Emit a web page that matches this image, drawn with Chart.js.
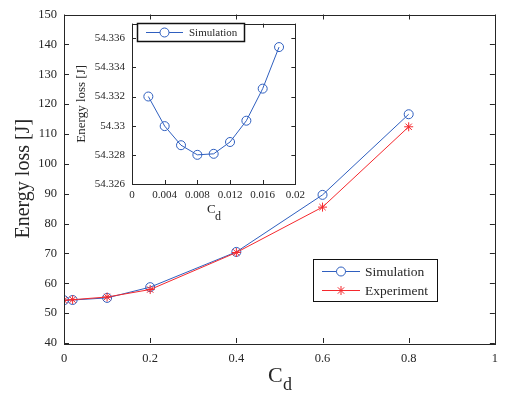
<!DOCTYPE html>
<html>
<head>
<meta charset="utf-8">
<script src="https://cdn.jsdelivr.net/npm/chart.js@4.4.0/dist/chart.umd.min.js"></script>
<style>
  html, body { margin: 0; padding: 0; background: #fff; }
  #wrap { position: relative; width: 506px; height: 394px; }
  #grafico { position: absolute; left: 0; top: 0; }
  #grafico-inset { position: absolute; left: 70px; top: 10px; }
</style>
</head>
<body>
<div id="wrap">
  <canvas id="grafico" width="506" height="394"></canvas>
  <canvas id="grafico-inset" width="240" height="212"></canvas>
</div>
<script>
// dados do grafico principal
const cd = [0, 0.02, 0.1, 0.2, 0.4, 0.6, 0.8];
const simulacao = [54.33, 54.4, 55.1, 58.7, 70.5, 89.6, 116.6];
const experimento = [54.3, 54.5, 55.4, 57.9, 70.3, 85.5, 112.4];
const ticksX = [0, 0.2, 0.4, 0.6, 0.8, 1];
const ticksY = [40, 50, 60, 70, 80, 90, 100, 110, 120, 130, 140, 150];

// dados do detalhe (inset)
const cdInset = [0.002, 0.004, 0.006, 0.008, 0.010, 0.012, 0.014, 0.016, 0.018];
const simInset = [54.332, 54.32997, 54.32866, 54.3280, 54.32807, 54.32888, 54.33034, 54.33254, 54.33539];
const ticksXInset = [0, 0.004, 0.008, 0.012, 0.016, 0.02];
const ticksYInset = [54.326, 54.328, 54.33, 54.332, 54.334, 54.336];

const AZUL = "#2f5fbf";
const VERMELHO = "#f5282d";
const TEXTO = "#262626";
const FONTE = "'Liberation Serif', 'Times New Roman', serif";

const pares = (xs, ys) => xs.map((x, i) => ({ x: x, y: ys[i] }));
const rotulo = v => String(+Number(v).toFixed(6));

// caixa com ticks para dentro, estilo matlab
const caixaTicks = {
  id: "caixaTicks",
  afterDraw(chart, args, opts) {
    const { ctx, chartArea: a, scales } = chart;
    const len = opts.len || 5;
    ctx.save();
    ctx.strokeStyle = TEXTO;
    ctx.lineWidth = 1;
    ctx.beginPath();
    scales.x.ticks.forEach(t => {
      const px = Math.round(scales.x.getPixelForValue(t.value)) + 0.5;
      ctx.moveTo(px, a.bottom); ctx.lineTo(px, a.bottom - len);
      ctx.moveTo(px, a.top); ctx.lineTo(px, a.top + len);
    });
    scales.y.ticks.forEach(t => {
      const py = Math.round(scales.y.getPixelForValue(t.value)) + 0.5;
      ctx.moveTo(a.left, py); ctx.lineTo(a.left + len, py);
      ctx.moveTo(a.right, py); ctx.lineTo(a.right - len, py);
    });
    ctx.stroke();
    ctx.lineWidth = opts.borda || 1;
    ctx.strokeRect(Math.round(a.left) + 0.5, Math.round(a.top) + 0.5,
      Math.round(a.right - a.left), Math.round(a.bottom - a.top));
    ctx.restore();
  }
};

// legenda desenhada dentro da area do grafico
const legendaCaixa = {
  id: "legendaCaixa",
  afterDraw(chart, args, opts) {
    const ctx = chart.ctx;
    ctx.save();
    ctx.fillStyle = "#fff";
    ctx.fillRect(opts.x, opts.y, opts.w, opts.h);
    ctx.strokeStyle = "#111";
    ctx.lineWidth = opts.borda || 1;
    ctx.strokeRect(opts.x + 0.5, opts.y + 0.5, opts.w, opts.h);
    opts.itens.forEach((item, i) => {
      const ds = chart.data.datasets[item.dataset];
      const y = opts.linhaY + i * opts.passo;
      ctx.strokeStyle = ds.borderColor;
      ctx.lineWidth = 1;
      ctx.beginPath();
      ctx.moveTo(opts.x0, y + 0.5);
      ctx.lineTo(opts.x1, y + 0.5);
      ctx.stroke();
      Chart.helpers.drawPoint(ctx, {
        pointStyle: ds.pointStyle,
        radius: ds.pointRadius,
        borderWidth: 1,
        rotation: 0
      }, (opts.x0 + opts.x1) / 2, y + 0.5);
      ctx.fillStyle = TEXTO;
      ctx.font = opts.fonte + "px " + FONTE;
      ctx.textBaseline = "middle";
      ctx.textAlign = "left";
      ctx.fillText(ds.label, opts.textoX, y + 1);
    });
    ctx.restore();
  }
};

// rotulo "C" com "d" subscrito
const rotuloCd = {
  id: "rotuloCd",
  afterDraw(chart, args, opts) {
    const ctx = chart.ctx;
    ctx.save();
    ctx.fillStyle = TEXTO;
    ctx.textAlign = "left";
    ctx.textBaseline = "alphabetic";
    ctx.font = opts.tam + "px " + FONTE;
    ctx.fillText("C", opts.x, opts.y);
    ctx.font = opts.tamSub + "px " + FONTE;
    ctx.fillText("d", opts.subX, opts.subY);
    ctx.restore();
  }
};

function escala(min, max, ticks, larguraFixa, tamFonte, padding, titulo) {
  return {
    type: "linear",
    min: min,
    max: max,
    grid: { display: false, drawTicks: false },
    border: { display: false },
    afterBuildTicks: s => { s.ticks = ticks.map(v => ({ value: v })); },
    afterFit: larguraFixa,
    ticks: {
      color: TEXTO,
      padding: padding,
      autoSkip: false,
      maxRotation: 0,
      font: { family: FONTE, size: tamFonte },
      callback: rotulo
    },
    title: titulo || { display: false }
  };
}

new Chart(document.getElementById("grafico").getContext("2d"), {
  type: "line",
  data: {
    datasets: [
      {
        label: "Experiment",
        data: pares(cd, experimento),
        borderColor: VERMELHO,
        backgroundColor: VERMELHO,
        borderWidth: 1,
        pointStyle: "star",
        pointRadius: 4.5,
        pointBorderWidth: 1,
        tension: 0
      },
      {
        label: "Simulation",
        data: pares(cd, simulacao),
        borderColor: AZUL,
        backgroundColor: "transparent",
        borderWidth: 1,
        pointStyle: "circle",
        pointRadius: 4.5,
        pointBorderWidth: 1,
        tension: 0
      }
    ]
  },
  options: {
    responsive: false,
    animation: false,
    layout: { padding: { left: 0, right: 8, top: 6, bottom: 0 } },
    scales: {
      x: escala(0, 1, ticksX, s => { s.height = 51; }, 12.5, 8),
      y: escala(40, 150, ticksY, s => { s.width = 64; }, 12.5, 7, {
        display: true,
        text: "Energy loss [J]",
        color: TEXTO,
        font: { family: FONTE, size: 20 },
        padding: { top: 12, bottom: 0 }
      })
    },
    plugins: {
      legend: { display: false },
      tooltip: { enabled: false },
      caixaTicks: { len: 5 },
      legendaCaixa: {
        x: 313, y: 259, w: 124, h: 42,
        x0: 322, x1: 360, textoX: 365,
        linhaY: 271, passo: 19, fonte: 13.5, borda: 1,
        itens: [{ dataset: 1 }, { dataset: 0 }]
      },
      rotuloCd: { x: 268, y: 382, tam: 22, subX: 283, subY: 390, tamSub: 18 }
    }
  },
  plugins: [caixaTicks, legendaCaixa, rotuloCd]
});

new Chart(document.getElementById("grafico-inset").getContext("2d"), {
  type: "line",
  data: {
    datasets: [
      {
        label: "Simulation",
        data: pares(cdInset, simInset),
        borderColor: AZUL,
        backgroundColor: "transparent",
        borderWidth: 1,
        pointStyle: "circle",
        pointRadius: 4.5,
        pointBorderWidth: 1,
        tension: 0
      }
    ]
  },
  options: {
    responsive: false,
    animation: false,
    layout: { padding: { left: 0, right: 11, top: 6, bottom: 0 } },
    scales: {
      x: escala(0, 0.02, ticksXInset, s => { s.height = 38; }, 11, 5),
      y: escala(54.326, 54.337, ticksYInset, s => { s.width = 62; }, 11, 7, {
        display: true,
        text: "Energy loss [J]",
        color: TEXTO,
        font: { family: FONTE, size: 13 },
        padding: { top: 4, bottom: 0 }
      })
    },
    plugins: {
      legend: { display: false },
      tooltip: { enabled: false },
      caixaTicks: { len: 4, borda: 1 },
      legendaCaixa: {
        x: 67, y: 13, w: 107, h: 18,
        x0: 76, x1: 113, textoX: 119,
        linhaY: 22, passo: 0, fonte: 11, borda: 1.5,
        itens: [{ dataset: 0 }]
      },
      rotuloCd: { x: 137, y: 203, tam: 13, subX: 145, subY: 210, tamSub: 12 }
    }
  },
  plugins: [caixaTicks, legendaCaixa, rotuloCd]
});
</script>
</body>
</html>
